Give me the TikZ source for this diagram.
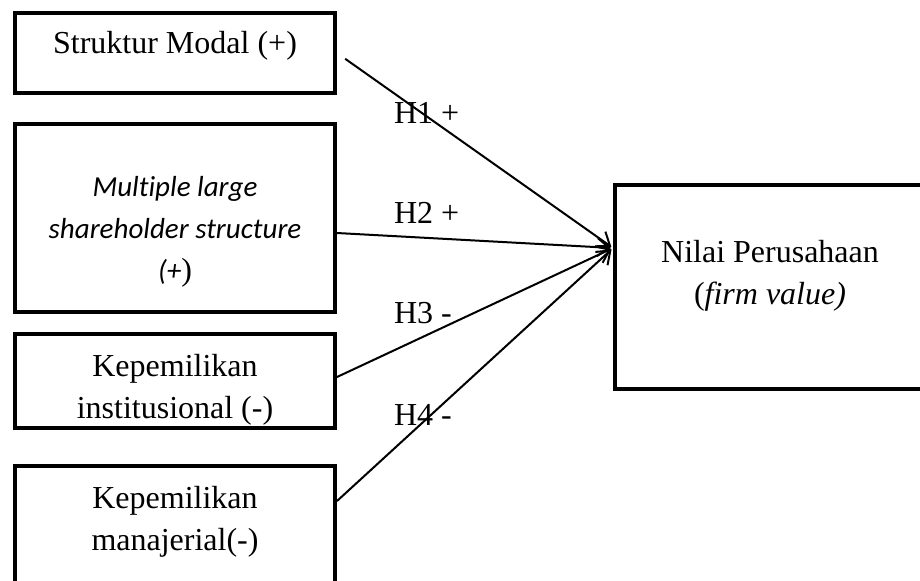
\documentclass[tikz,border=0pt]{standalone}
\usepackage{fontspec}
\setmainfont{Liberation Serif}
\newfontfamily\calibri[Ligatures=NoCommon]{Carlito}
\usetikzlibrary{positioning}
\usetikzlibrary{arrows.meta}

\begin{document}
\begin{tikzpicture}[
            > = {Straight Barb[length=6pt, width=9pt]}, % arrow head style
            shorten > = 1pt, % don't touch arrow head to node
            line width = 1pt, % line style
            font = \fontsize{16}{21}\selectfont
            ]

        \tikzstyle{box}=[
            draw,
            line width = 2pt,
            inner sep = 0pt,
            minimum width = 160pt
        ]
        \tikzstyle{hyp}=[
            inner sep = 0pt,
            anchor = base west
        ]

        \clip (0,0) rectangle (460pt,-290pt);

	% independent variables
        \node[box, minimum height=40pt] (modal) at (87.5pt,-26.5pt)
            {\raisebox{-0.7pt}[0pt][0pt]{\parbox{150pt}{\centering Struktur Modal (+)}}};
        \node[box, minimum height=94pt] (mlss) [below = 13.5pt of modal]
            {\raisebox{-11pt}[0pt][0pt]{\parbox{150pt}{\centering {\calibri\itshape\fontsize{14.5}{21}\selectfont Multiple large\\ shareholder structure\\ (+})}}};
        \node[box, minimum height=47pt] (inst) [below = 9pt of mlss]
            {\raisebox{-8.5pt}[0pt][0pt]{\parbox{150pt}{\centering Kepemilikan\\ institusional (-)}}};
        \node[box, minimum height=65pt] (manaj) [below = 17pt of inst]
            {\raisebox{0.5pt}[0pt][0pt]{\parbox{150pt}{\centering Kepemilikan\\ manajerial(-)}}};

	% dependent variable
        \node[box, minimum width=155pt, minimum height=102pt] (nilai) at (385pt,-143.5pt)
            {\raisebox{1.5pt}[0pt][0pt]{\parbox{150pt}{\centering Nilai Perusahaan\\ (\textit{firm value)}}}};

        \coordinate (tip) at ([yshift=19.5pt]nilai.west);

	% hypotheses
        \draw[->, shorten <= 5pt] (modal.east) -- (tip);
        \draw[->] ([yshift=-7.5pt]mlss.east) -- (tip);
        \draw[->] ([yshift=2pt]inst.east) -- (tip);
        \draw[->] ([yshift=15pt]manaj.east) -- (tip);

        \node[hyp] (h1) at (196.5pt,-61.5pt) {H1 +};
        \node[hyp] (h2) at (196.5pt,-111.5pt) {H2 +};
        \node[hyp] (h3) at (196.5pt,-161.5pt) {H3 -};
        \node[hyp] (h4) at (196.5pt,-212.5pt) {H4 -};

\end{tikzpicture}
\end{document}
